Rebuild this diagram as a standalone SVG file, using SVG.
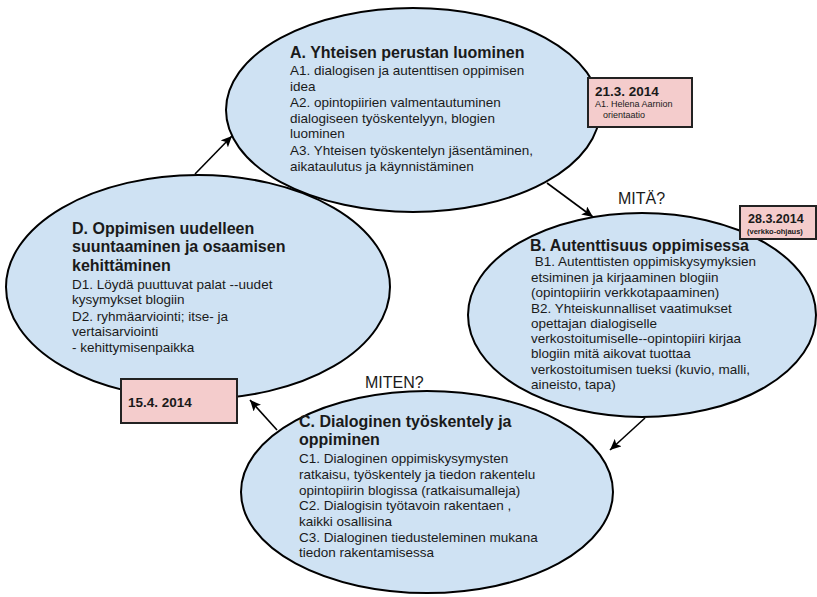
<svg xmlns="http://www.w3.org/2000/svg" width="817" height="597" viewBox="0 0 817 597">
  <style>
    .phase { fill: #cfe2f3; stroke: #000; stroke-width: 2; }
    .date { fill: #f4cccc; stroke: #222; stroke-width: 2; }
    text { font-family: "Liberation Sans", Arial, sans-serif; fill: #1a1a1a; }
    .title { font-size: 16px; font-weight: bold; }
    .body { font-size: 13.5px; }
    .q { font-size: 16px; }
    .dbig { font-size: 13.5px; font-weight: bold; }
    .flow { stroke: #000; stroke-width: 1.6; fill: none; marker-end: url(#head); }
  </style>
  <defs>
    <marker id="head" markerUnits="userSpaceOnUse" markerWidth="12" markerHeight="10" refX="11" refY="5" orient="auto">
      <path d="M0,0 L11,5 L0,10 L2.5,5 Z" fill="#000"/>
    </marker>
  </defs>
  <rect width="817" height="597" fill="#fff"/>

  <!-- A: common ground -->
  <g id="phaseA">
    <ellipse class="phase" cx="413" cy="110" rx="187" ry="102"/>
    <text class="title" x="290" y="58">A. Yhteisen perustan luominen</text>
    <text class="body" x="290" y="75">A1. dialogisen ja autenttisen oppimisen</text>
    <text class="body" x="290" y="91">idea</text>
    <text class="body" x="290" y="107">A2. opintopiirien valmentautuminen</text>
    <text class="body" x="290" y="123">dialogiseen työskentelyyn, blogien</text>
    <text class="body" x="290" y="138">luominen</text>
    <text class="body" x="290" y="155">A3. Yhteisen työskentelyn jäsentäminen,</text>
    <text class="body" x="290" y="171">aikataulutus ja käynnistäminen</text>
  </g>

  <!-- B: authenticity -->
  <g id="phaseB">
    <ellipse class="phase" cx="642" cy="315" rx="174" ry="102"/>
    <text class="title" x="530" y="251">B. Autenttisuus oppimisessa</text>
    <text class="body" x="531" y="266" xml:space="preserve"> B1. Autenttisten oppimiskysymyksien</text>
    <text class="body" x="531" y="282">etsiminen ja kirjaaminen blogiin</text>
    <text class="body" x="531" y="297">(opintopiirin verkkotapaaminen)</text>
    <text class="body" x="531" y="313">B2. Yhteiskunnalliset vaatimukset</text>
    <text class="body" x="531" y="328">opettajan dialogiselle</text>
    <text class="body" x="531" y="343">verkostoitumiselle--opintopiiri kirjaa</text>
    <text class="body" x="531" y="358">blogiin mitä aikovat tuottaa</text>
    <text class="body" x="531" y="374">verkostoitumisen tueksi (kuvio, malli,</text>
    <text class="body" x="531" y="389">aineisto, tapa)</text>
  </g>

  <!-- C: dialogic work -->
  <g id="phaseC">
    <ellipse class="phase" cx="427" cy="492" rx="186" ry="101"/>
    <text class="title" x="299" y="427">C. Dialoginen työskentely ja</text>
    <text class="title" x="299" y="445">oppiminen</text>
    <text class="body" x="299" y="463">C1. Dialoginen oppimiskysymysten</text>
    <text class="body" x="299" y="479">ratkaisu, työskentely ja tiedon rakentelu</text>
    <text class="body" x="299" y="495">opintopiirin blogissa (ratkaisumalleja)</text>
    <text class="body" x="299" y="510">C2. Dialogisin työtavoin rakentaen ,</text>
    <text class="body" x="299" y="526">kaikki osallisina</text>
    <text class="body" x="299" y="542">C3. Dialoginen tiedusteleminen mukana</text>
    <text class="body" x="299" y="557">tiedon rakentamisessa</text>
  </g>

  <!-- D: reorientation -->
  <g id="phaseD">
    <ellipse class="phase" cx="198" cy="287" rx="192" ry="112"/>
    <text class="title" x="72" y="234">D. Oppimisen uudelleen</text>
    <text class="title" x="72" y="252">suuntaaminen ja osaamisen</text>
    <text class="title" x="72" y="270.5">kehittäminen</text>
    <text class="body" x="72" y="289">D1. Löydä puuttuvat palat --uudet</text>
    <text class="body" x="72" y="304">kysymykset blogiin</text>
    <text class="body" x="72" y="320.5">D2. ryhmäarviointi; itse- ja</text>
    <text class="body" x="72" y="336">vertaisarviointi</text>
    <text class="body" x="72" y="352">- kehittymisenpaikka</text>
  </g>

  <!-- dates -->
  <g id="date1">
    <rect class="date" x="588" y="78" width="104" height="49"/>
    <text class="dbig" x="595" y="96">21.3. 2014</text>
    <text x="595" y="107" font-size="9">A1. Helena Aarnion</text>
    <text x="603" y="118" font-size="9">orientaatio</text>
  </g>
  <g id="date2">
    <rect class="date" x="740" y="206" width="76" height="33"/>
    <text x="748" y="223" font-size="12.5" font-weight="bold">28.3.2014</text>
    <text x="747" y="234" font-size="7.5" font-weight="bold">(verkko-ohjaus)</text>
  </g>
  <g id="date3">
    <rect class="date" x="121" y="379" width="116" height="44"/>
    <text class="dbig" x="128" y="407">15.4. 2014</text>
  </g>

  <!-- cycle connectors -->
  <g id="connectors">
    <line class="flow" x1="195" y1="174" x2="232" y2="136"/>
    <line class="flow" x1="547" y1="183" x2="593" y2="217"/>
    <line class="flow" x1="645" y1="418" x2="610" y2="450"/>
    <line class="flow" x1="277" y1="430" x2="250" y2="400"/>
  </g>

  <text class="q" x="618" y="204">MITÄ?</text>
  <text class="q" x="365" y="388">MITEN?</text>
</svg>
